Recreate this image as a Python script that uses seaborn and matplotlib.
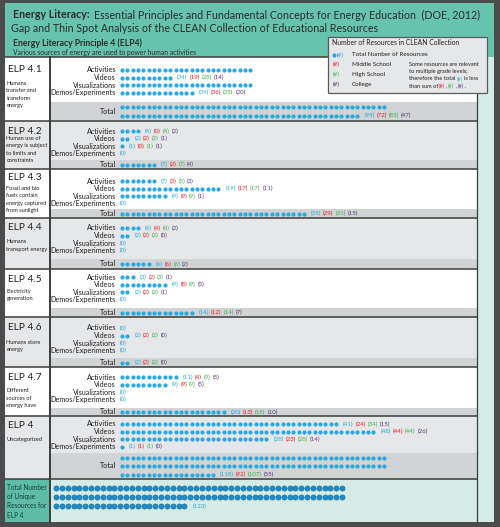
import numpy as np
import pandas as pd
import matplotlib
matplotlib.use("Agg")
import matplotlib.pyplot as plt
import seaborn as sns
from matplotlib.patches import Rectangle

sections = ["ELP 4.1", "ELP 4.2", "ELP 4.3", "ELP 4.4", "ELP 4.5", "ELP 4.6", "ELP 4.7", "ELP 4"]
descriptions = [
    ["Humans", "transfer and", "transform", "energy"],
    ["Human use of", "energy is subject", "to limits and", "constraints"],
    ["Fossil and bio", "fuels contain", "energy captured", "from sunlight"],
    ["Humans", "transport energy"],
    ["Electricity", "generation"],
    ["Humans store", "energy"],
    ["Different", "sources of", "energy have"],
    ["Uncategorized"],
]
categories = ["Activities", "Videos", "Visualizations", "Demos/Experiments"]

# (total, middle school, high school, college); None = label hidden under the legend box
activities = [None, (4, 0, 4, 2), (7, 3, 5, 3), (4, 4, 4, 2), (3, 2, 3, 1), (0, 0, 0, 0), (11, 4, 9, 5), (41, 24, 34, 15)]
videos = [(34, 19, 28, 14), (2, 2, 2, 1), (19, 17, 17, 11), (2, 2, 2, 0), (9, 8, 9, 5), (2, 2, 2, 0), (9, 9, 9, 5), (48, 44, 44, 26)]
visualizations = [None, (1, 0, 1, 1), (9, 9, 9, 1), (0, 0, 0, 0), (2, 2, 2, 1), (0, 0, 0, 0), (0, 0, 0, 0), (28, 23, 28, 14)]
demos = [(39, 36, 35, 20), (0, 0, 0, 0), (0, 0, 0, 0), (0, 0, 0, 0), (0, 0, 0, 0), (0, 0, 0, 0), (0, 0, 0, 0), (1, 1, 1, 0)]
totals = [(95, 72, 85, 47), (7, 2, 7, 4), (35, 29, 31, 15), (6, 6, 6, 2), (14, 12, 14, 7), (2, 2, 2, 0), (20, 13, 18, 10), (118, 92, 107, 55)]
# ELP 4.1 rows show fewer dots than their counts in the original graphic
dots_shown_elp41 = [25, 10, 25, 14]
unique_total = 123

grade_colors = ["#29a9e0", "#e8202a", "#3db44b", "#5e3a82"]
grade_names = ["Total Number of Resources", "Middle School", "High School", "College"]

# ---- layout (pixel coordinates, y down) ----
W, H = 500, 527
section_tops = [57, 121, 169, 218, 269, 317, 367, 416]
unique_top, table_bottom = 479, 522
first_row_y = [70, 131, 181, 228, 277, 328, 377, 424]
band_tops = [102, 160, 209, 259, 308, 358, 408, 453]
name_y = [70, 132, 178, 228, 280, 328, 377, 425]
desc_y = [83.5, 138.5, 188, 241.5, 291, 342.5, 391, 439.5]
row_step, dot_step, dot_x0, per_row = 7.6, 5.35, 122, 50
left_x, col_x, right_x = 5, 50, 477
ink = "#231f20"
num_size = 4.4
leg_size = 4.5
note_size = 4.1

sns.set_style("white")
plt.rcParams["font.family"] = ["Lato", "DejaVu Sans"]

fig = plt.figure(figsize=(W / 100, H / 100), dpi=100, facecolor="#4b4b4b")
ax = fig.add_axes([0, 0, 1, 1])
ax.set_xlim(0, W)
ax.set_ylim(H, 0)
ax.axis("off")


def rect(x0, y0, x1, y1, fc, ec="none", lw=0, z=0):
    ax.add_patch(Rectangle((x0, y0), x1 - x0, y1 - y0, fc=fc, ec=ec, lw=lw, zorder=z))


def chain(x, y, parts, size, gap=1.0, z=5, **kw):
    t = ax.text(x, y, parts[0][0], color=parts[0][1], fontsize=size, va="center", ha="left", zorder=z, **kw)
    for s, c in parts[1:]:
        t = ax.annotate(s, xy=(1, 0.5), xycoords=t, xytext=(gap, 0), textcoords="offset points",
                        color=c, fontsize=size, va="center", ha="left", zorder=z, **kw)
    return t


def count_label(x, y, vals):
    if vals is None:
        return
    if vals[0] == 0:
        chain(x, y, [("(0)", grade_colors[0])], num_size)
    else:
        chain(x, y, [(f"({v})", c) for v, c in zip(vals, grade_colors)], num_size, gap=1.4)


# backgrounds
rect(5, 3, 494, section_tops[0], "#66c3ae")
rect(right_x, section_tops[0], 494, table_bottom, "#d5ebe6")
bounds = section_tops + [unique_top]
for i in range(len(sections)):
    fc = "white" if i % 2 == 0 else "#e6e7e8"
    rect(left_x, bounds[i], right_x, bounds[i + 1], fc)
    rect(col_x, band_tops[i], right_x, bounds[i + 1], "#d1d3d4")
rect(left_x, unique_top, col_x, table_bottom, "#5dbda6")
rect(col_x, unique_top, right_x, table_bottom, "#d5ebe6")
for yy in bounds:
    ax.plot([left_x, right_x], [yy, yy], color="#3c3c3c", lw=1.1, zorder=3)
ax.plot([col_x, col_x], [section_tops[0], table_bottom], color="#3c3c3c", lw=1.4, zorder=3)
ax.plot([right_x, right_x], [section_tops[0], table_bottom], color="#3c3c3c", lw=0.9, zorder=3)

# header
t = ax.text(13, 15, "Energy Literacy:", fontsize=7.7, fontweight="bold", color="#2b2b2b", va="center")
ax.annotate("Essential Principles and Fundamental Concepts for Energy Education  (DOE, 2012)",
            xy=(1, 0.5), xycoords=t, xytext=(3.5, 0), textcoords="offset points",
            fontsize=7.7, color="#2b2b2b", va="center")
ax.text(11, 28, "Gap and Thin Spot Analysis of the CLEAN Collection of Educational Resources",
        fontsize=7.7, color="#2b2b2b", va="center")
ax.text(13, 43, "Energy Literacy Principle 4 (ELP4)", fontsize=6.2, fontweight="bold", color="#2b2b2b", va="center")
ax.text(13, 52.5, "Various sources of energy are used to power human activities", fontsize=4.9,
        color="#2b2b2b", va="center")

# dots + labels
cat_values = [activities, videos, visualizations, demos]
dots = []
for i, sec in enumerate(sections):
    ax.text(8, name_y[i], sec, fontsize=7.3, color=ink, va="center")
    for k, line in enumerate(descriptions[i]):
        ax.text(6.5, desc_y[i] + k * 7.5, line, fontsize=4.1, color=ink, va="center", zorder=4)
    for j, cat in enumerate(categories):
        y = first_row_y[i] + j * row_step
        ax.text(116, y, cat, fontsize=5.2, color=ink, va="center", ha="right")
        vals = cat_values[j][i]
        n = dots_shown_elp41[j] if i == 0 else vals[0]
        for d in range(n):
            dots.append((dot_x0 + d * dot_step, y))
        lx = dot_x0 - 2 if n == 0 else dot_x0 + (n - 1) * dot_step + 7
        count_label(lx, y, vals)
    # totals band, wrapping at 50 dots per row
    n = totals[i][0]
    nrows = int(np.ceil(n / per_row))
    mid = (band_tops[i] + bounds[i + 1]) / 2
    ax.text(116, mid, "Total", fontsize=5.2, color=ink, va="center", ha="right")
    ys = mid + (np.arange(nrows) - (nrows - 1) / 2) * 8.5
    for d in range(n):
        dots.append((dot_x0 + (d % per_row) * dot_step, ys[d // per_row]))
    last = (n - 1) % per_row
    count_label(dot_x0 + last * dot_step + 7, ys[-1], totals[i])

dot_df = pd.DataFrame(dots, columns=["x", "y"])
sns.scatterplot(data=dot_df, x="x", y="y", color=grade_colors[0], s=9, linewidth=0, ax=ax, zorder=4, legend=False)

# unique resources
u_rows = [488, 497, 506]
u_step, u_x0 = 5.84, 56
udf = pd.DataFrame({"x": [u_x0 + (d % per_row) * u_step for d in range(unique_total)],
                    "y": [u_rows[d // per_row] for d in range(unique_total)]})
sns.scatterplot(data=udf, x="x", y="y", color="#1c8dc9", edgecolor="#14689a", s=14, linewidth=0.4,
                ax=ax, zorder=4, legend=False)
ax.text(u_x0 + ((unique_total - 1) % per_row) * u_step + 8, u_rows[-1], f"({unique_total})",
        fontsize=num_size, color=grade_colors[0], va="center", zorder=5)
for k, line in enumerate(["Total Number", "of Unique", "Resources for", "ELP 4"]):
    ax.text(7, 488 + k * 9, line, fontsize=4.7, color="#1d3f3c", va="center")

# legend box
rect(328, 37, 487, 93, "#e6e7e8", ec="#5a5a5a", lw=0.9, z=6)
ax.text(332, 42.5, "Number of Resources in CLEAN Collection", fontsize=4.9, color=ink, va="center", zorder=7)
ax.scatter([334], [55], s=9, color=grade_colors[0], zorder=7, linewidth=0)
for k, (name, c) in enumerate(zip(grade_names, grade_colors)):
    yy = 55 + k * 9.7
    ax.text(337 if k == 0 else 333, yy, "(#)", fontsize=leg_size, color=c, va="center", zorder=7)
    ax.text(352, yy, name, fontsize=leg_size, color=ink, va="center", zorder=7)
ax.text(409, 64, "Some resources are relevant", fontsize=note_size, color=ink, va="center", zorder=7)
ax.text(409, 71.5, "to multiple grade levels;", fontsize=note_size, color=ink, va="center", zorder=7)
chain(409, 79, [("therefore the total", ink), ("(#)", grade_colors[0]), ("is less", ink)], note_size, z=7)
chain(409, 86.5, [("than sum of", ink), ("(#)", grade_colors[1]), (",", ink), ("(#)", grade_colors[2]),
                  (",", ink), ("(#)", grade_colors[3]), (".", ink)], note_size, gap=0.6, z=7)

ax.set_xlim(0, W)
ax.set_ylim(H, 0)
fig.savefig("out.png", dpi=100, facecolor=fig.get_facecolor())
